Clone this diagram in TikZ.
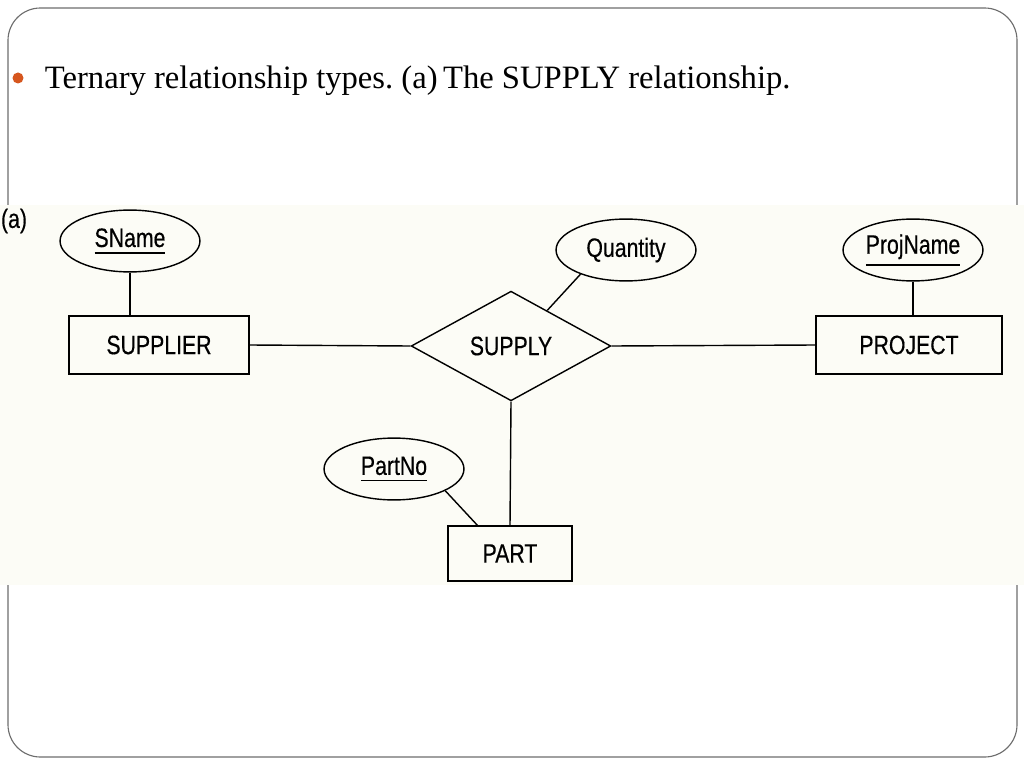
\documentclass[tikz,border=0pt]{standalone}
\usepackage{fontspec}
\usepackage{xcolor}
\usetikzlibrary{shapes.geometric, calc}
\setmainfont{Liberation Serif}
\newfontfamily\erfont[FakeStretch=0.8, FakeBold=0.4]{Liberation Sans}
\definecolor{cream}{HTML}{FCFCF6}
\definecolor{bulletorange}{HTML}{D6561E}
\definecolor{framegray}{HTML}{6E6E6E}
\newcommand{\keyattr}[1]{\vtop{\hbox{#1}\kern3.2pt\hrule height 1.3pt}}
\frenchspacing

\begin{document}
\begin{tikzpicture}[x=0.025cm, y=-0.025cm,
  every node/.style={font=\erfont\fontsize{18.9}{22}\selectfont},
  entity/.style={draw, line width=1pt, inner sep=0pt, minimum height=41.2pt},
  attr/.style={draw, ellipse, line width=1pt, inner sep=0pt, minimum width=99.5pt, minimum height=44pt},
  rel/.style={draw, diamond, line width=1pt, inner sep=0pt, minimum width=142pt, minimum height=78pt}]
\useasboundingbox (0,0) rectangle (1024,768);
\fill[white] (0,0) rectangle (1024,768);

\draw[framegray, line width=0.8pt, rounded corners=23pt] (8,8) rectangle (1017,757);
\fill[cream] (0,205) rectangle (1024,585);

\fill[bulletorange] (18,78) circle (5.5);
\node[anchor=base west, font=\rmfamily\fontsize{23.2}{28}\selectfont] (title) at (40,89)
  {Ternary relationship types. (a)\,The SUPPLY relationship.};

\node (tag) at (14,221) {(a)};

\node[entity, minimum width=128pt] (supplier) at (159,345) {SUPPLIER};
\node[entity, minimum width=132.3pt] (project) at (909,345) {PROJECT};
\node[entity, minimum width=88.2pt, minimum height=39.1pt] (part) at (510,553.5) {PART};
\node[rel] (supply) at (511,346) {SUPPLY};

\node[attr] (sname) at (130,241) {\keyattr{SName}};
\node[attr] (quantity) at (626,250) {Quantity};
\node[attr] (projname) at (913,250) {\keyattr{ProjName}};
\node[attr] (partno) at (394,469) {\keyattr{PartNo}};

\draw[line width=1pt] (supplier.east) -- (supply.west);
\draw[line width=1pt] (supply.east) -- (project.west);
\draw[line width=1pt] (supply.south) -- (part.north);
\draw[line width=1pt] (sname.south) -- (sname.south |- supplier.north);
\draw[line width=1pt] (projname.south) -- (projname.south |- project.north);
\draw[line width=1pt] (quantity.208) -- ($(supply.north)!0.36!(supply.east)$);
\draw[line width=1pt] (partno.337) -- ($(part.north west)!0.24!(part.north east)$);
\end{tikzpicture}
\end{document}
